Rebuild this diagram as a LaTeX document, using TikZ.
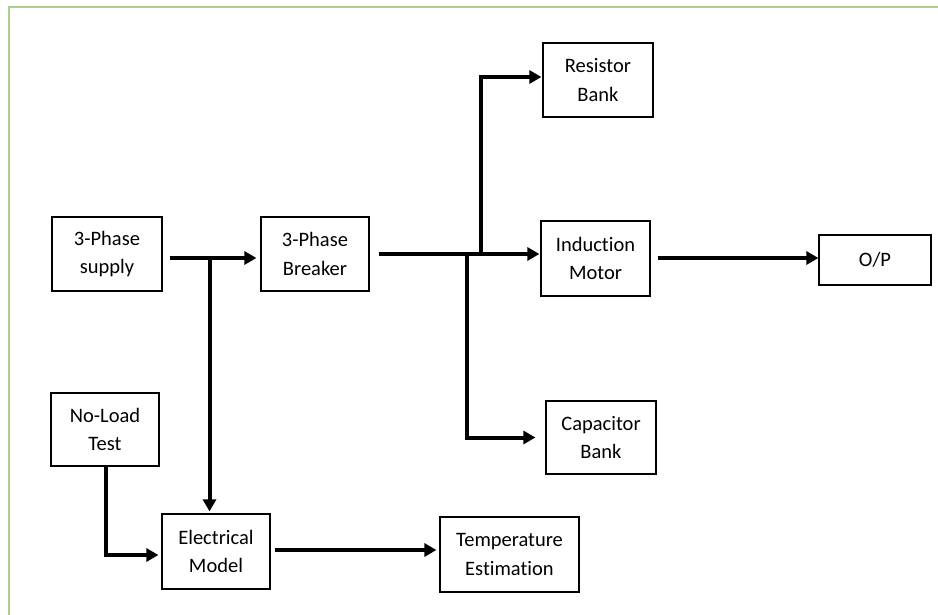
\documentclass[tikz,border=0pt]{standalone}
\usepackage{fontspec}
\setmainfont{Carlito}[Ligatures=NoCommon]
\usetikzlibrary{arrows.meta}
\definecolor{frameg}{HTML}{A9D08E}
\begin{document}
\begin{tikzpicture}[x=1pt,y=-1pt,
  blk/.style={draw=black,line width=1.2pt,inner sep=0pt,align=center,
    font=\fontsize{20.5}{28.5}\selectfont},
  arr/.style={line width=4pt,-{Triangle[length=12pt,width=13pt]}}]
\useasboundingbox (0,0) rectangle (938,615);
\fill[white] (0,0) rectangle (938,615);
\draw[frameg,line width=1.5pt] (9,615) -- (9,7) -- (938,7);

\node[blk,minimum width=110pt,minimum height=74pt] (sup) at (107,254) {3-Phase\\supply};
\node[blk,minimum width=108pt,minimum height=74pt] (brk) at (315,254) {3-Phase\\Breaker};
\node[blk,minimum width=110pt,minimum height=74pt] (res) at (598,80) {Resistor\\Bank};
\node[blk,minimum width=109pt,minimum height=75pt] (mot) at (595.5,258.5) {Induction\\Motor};
\node[blk,minimum width=112pt,minimum height=50pt] (op) at (875,260) {O/P};
\node[blk,minimum width=108pt,minimum height=73pt] (nlt) at (105,429.5) {No-Load\\Test};
\node[blk,minimum width=108pt,minimum height=75pt] (elm) at (216,551.5) {Electrical\\Model};
\node[blk,minimum width=139pt,minimum height=75pt] (tmp) at (509.5,554.5) {Temperature\\Estimation};
\node[blk,minimum width=110pt,minimum height=73pt] (cap) at (601,437.5) {Capacitor\\Bank};

\coordinate (j1) at (209.5,258);
\coordinate (j2) at (467,254);
\coordinate (j3) at (481,254);

\draw[arr] ([xshift=7pt,yshift=-4pt]sup.east) -- ([xshift=-4pt,yshift=-4pt]brk.west);
\draw[arr] (j1) -- ([xshift=-6.5pt,yshift=2pt]elm.north);
\draw[arr] ([xshift=9pt]brk.east) -- ([xshift=-1pt,yshift=4.5pt]mot.west);
\draw[line width=4pt] (j2) -- (467,437.5);
\draw[arr] (j2) |- ([xshift=-10pt]cap.west);
\draw[arr] (j3) |- ([xshift=-1pt,yshift=3pt]res.west);
\draw[arr] ([xshift=7pt,yshift=0.5pt]mot.east) -- ([yshift=2pt]op.west);
\draw[arr] ([xshift=1pt]nlt.south) |- ([xshift=-3pt,yshift=-3.5pt]elm.west);
\draw[arr] ([xshift=4pt,yshift=1.5pt]elm.east) -- ([xshift=-3pt,yshift=4.5pt]tmp.west);
\end{tikzpicture}
\end{document}
